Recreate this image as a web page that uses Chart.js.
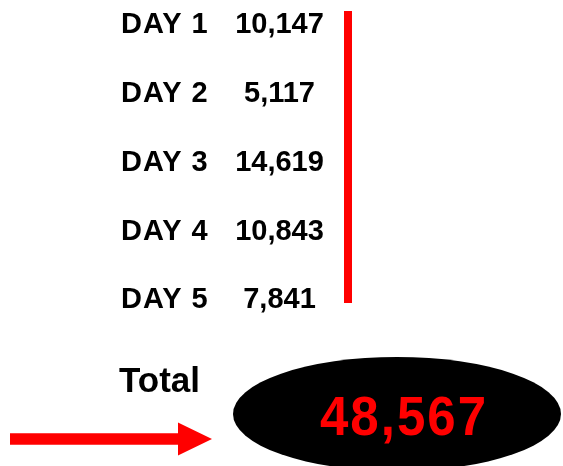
<!DOCTYPE html>
<html><head><meta charset="utf-8">
<script src="https://cdn.jsdelivr.net/npm/chart.js@4/dist/chart.umd.min.js"></script>
<style>html,body{margin:0;padding:0;background:#fff;overflow:hidden}canvas{display:block}</style>
</head><body>
<canvas id="c" width="563" height="466"></canvas>
<script>
// ---- data ----
const categories = ['DAY 1', 'DAY 2', 'DAY 3', 'DAY 4', 'DAY 5'];
const values = [10147, 5117, 14619, 10843, 7841];
const totalLabel = 'Total';
const total = values.reduce((a, b) => a + b, 0);

// ---- layout (in the pixel-like frame of the scales) ----
const W = 563, H = 466;
const ROW0 = 23, ROW_STEP = 68.75;         // row centres
const rowY = i => ROW0 + i * ROW_STEP;
const LABEL_X = 121, VALUE_X = 279.5, BAR_X = 348;
const TOTAL_X = 119, TOTAL_BASE = 391.5;
const ELL = { cx: 397, cy: 414, rx: 164, ry: 57 };
const NUM = { x: 403, base: 435 };
const ARROW = { x0: 10, x1: 178, tip: 212, y: 439, shaft: 11.5, head: 33 };
const RED = '#ff0000';
const FONT = '"Liberation Sans", Arial, sans-serif';

const fmt = v => v.toLocaleString('en-US');

const drawPlugin = {
  id: 'drawPlugin',
  beforeDatasetsDraw(chart) {
    const { ctx, scales: { x, y } } = chart;
    ctx.save();
    ctx.fillStyle = '#000';
    ctx.beginPath();
    const cx = x.getPixelForValue(ELL.cx), cy = y.getPixelForValue(ELL.cy);
    const rx = x.getPixelForValue(ELL.cx + ELL.rx) - cx;
    const ry = y.getPixelForValue(ELL.cy + ELL.ry) - cy;
    ctx.ellipse(cx, cy, Math.abs(rx), Math.abs(ry), 0, 0, Math.PI * 2);
    ctx.fill();
    ctx.restore();
  },
  afterDatasetsDraw(chart) {
    const { ctx, scales: { x, y } } = chart;
    const hasLS = 'letterSpacing' in ctx;
    ctx.save();
    ctx.fillStyle = '#000';
    ctx.textBaseline = 'alphabetic';
    ctx.font = 'bold 29px ' + FONT;
    categories.forEach((c, i) => {
      const by = y.getPixelForValue(rowY(i) + 10.3);
      ctx.textAlign = 'left';
      if (hasLS) ctx.letterSpacing = '1px';
      ctx.fillText(c, x.getPixelForValue(LABEL_X), by);
      if (hasLS) ctx.letterSpacing = '0px';
      ctx.textAlign = 'center';
      ctx.fillText(fmt(values[i]), x.getPixelForValue(VALUE_X), by);
    });
    ctx.font = 'bold 35px ' + FONT;
    ctx.textAlign = 'left';
    ctx.fillText(totalLabel, x.getPixelForValue(TOTAL_X), y.getPixelForValue(TOTAL_BASE));

    // total inside ellipse
    ctx.save();
    ctx.translate(x.getPixelForValue(NUM.x), y.getPixelForValue(NUM.base));
    ctx.scale(1, 1.1);
    ctx.fillStyle = RED;
    ctx.font = 'bold 51px ' + FONT;
    ctx.textAlign = 'center';
    if (hasLS) ctx.letterSpacing = '2px';
    ctx.fillText(fmt(total), 1, 0);
    ctx.restore();

    // arrow head
    ctx.fillStyle = RED;
    ctx.beginPath();
    ctx.moveTo(x.getPixelForValue(ARROW.x1), y.getPixelForValue(ARROW.y - ARROW.head / 2));
    ctx.lineTo(x.getPixelForValue(ARROW.tip), y.getPixelForValue(ARROW.y));
    ctx.lineTo(x.getPixelForValue(ARROW.x1), y.getPixelForValue(ARROW.y + ARROW.head / 2));
    ctx.closePath();
    ctx.fill();
    ctx.restore();
  }
};

new Chart(document.getElementById('c'), {
  type: 'scatter',
  data: {
    datasets: [
      { // red bracket line spanning the day rows
        data: [{ x: BAR_X, y: rowY(0) - 12 }, { x: BAR_X, y: rowY(categories.length - 1) + 5 }],
        showLine: true, borderColor: RED, borderWidth: 8, borderCapStyle: 'butt',
        pointRadius: 0, pointHoverRadius: 0
      },
      { // arrow shaft
        data: [{ x: ARROW.x0, y: ARROW.y }, { x: ARROW.x1 + 1, y: ARROW.y }],
        showLine: true, borderColor: RED, borderWidth: ARROW.shaft, borderCapStyle: 'butt',
        pointRadius: 0, pointHoverRadius: 0
      }
    ]
  },
  options: {
    responsive: false, animation: false, events: [],
    layout: { padding: 0 },
    plugins: { legend: { display: false }, tooltip: { enabled: false } },
    scales: {
      x: { type: 'linear', min: 0, max: W, display: false },
      y: { type: 'linear', min: 0, max: H, reverse: true, display: false }
    }
  },
  plugins: [drawPlugin]
});
</script>
</body></html>
